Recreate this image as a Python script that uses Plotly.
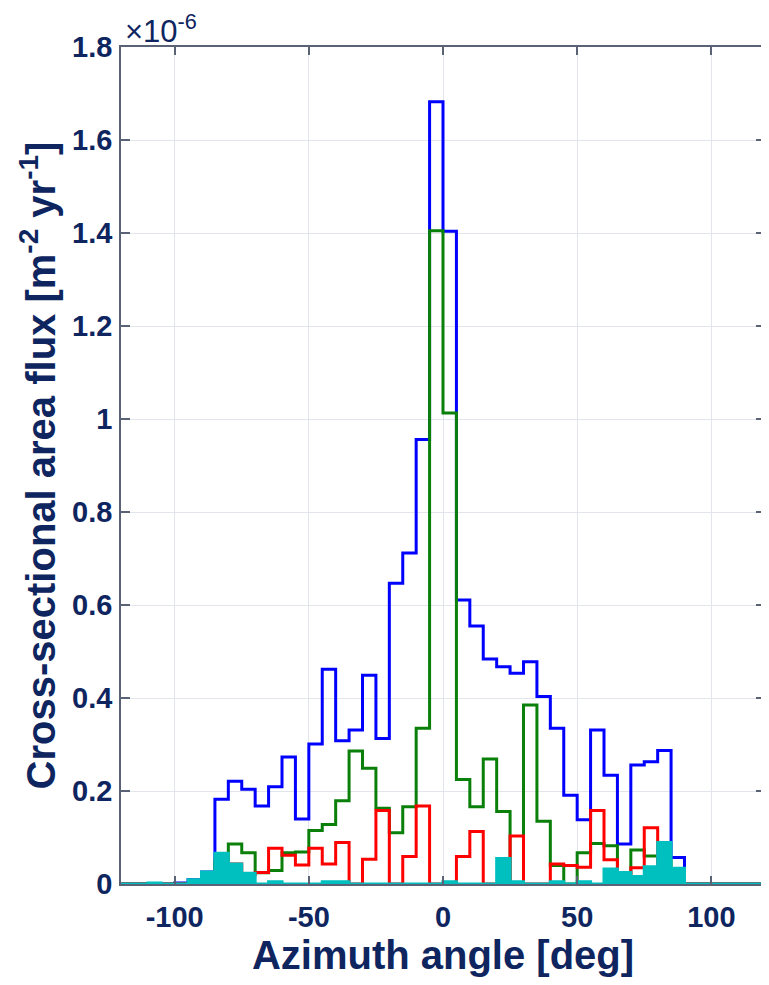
import plotly.graph_objects as go

# Bin edges of the azimuth histogram [deg]
bin_edges = [-120, -115, -110, -105, -100, -95, -90, -85, -80, -75, -70, -65,
             -60, -55, -50, -45, -40, -35, -30, -25, -20, -15, -10, -5,
             0, 5, 10, 15, 20, 25, 30, 35, 40, 45, 50, 55,
             60, 65, 70, 75, 80, 85, 90, 95, 100, 105, 110, 115, 120]

# Flux values per bin, in units of 1e-6 m^-2 yr^-1
blue_flux = [0, 0, 0, 0, 0.002, 0.009, 0.026, 0.182, 0.221, 0.204, 0.168, 0.209,
             0.273, 0.140, 0.301, 0.462, 0.308, 0.331, 0.449, 0.313, 0.647, 0.712, 0.956, 1.682,
             1.404, 0.611, 0.555, 0.484, 0.467, 0.453, 0.478, 0.403, 0.335, 0.191, 0.138, 0.331,
             0.234, 0.086, 0.256, 0.263, 0.287, 0.057, 0, 0, 0, 0, 0, 0]

green_flux = [0, 0, 0, 0, 0, 0, 0, 0.05, 0.086, 0.067, 0.024, 0.029,
              0.067, 0.069, 0.115, 0.128, 0.179, 0.286, 0.249, 0.163, 0.110, 0.166, 0.335, 1.405,
              1.013, 0.225, 0.166, 0.269, 0.156, 0, 0.385, 0.135, 0.04, 0, 0.067, 0.087,
              0.082, 0.022, 0.073, 0.060, 0.05, 0, 0, 0, 0, 0, 0, 0]

red_flux = [0, 0, 0, 0, 0, 0, 0, 0.02, 0.043, 0.02, 0.025, 0.077,
            0.062, 0.041, 0.077, 0.043, 0.089, 0, 0.053, 0.158, 0, 0.059, 0.168, 0,
            0, 0.059, 0.113, 0, 0, 0.103, 0, 0, 0.043, 0.040, 0.036, 0.158,
            0.052, 0.02, 0.035, 0.121, 0, 0, 0, 0, 0, 0, 0, 0]

cyan_flux = [0, 0, 0.002, 0, 0, 0.009, 0.026, 0.066, 0.043, 0.023, 0, 0.005,
             0, 0, 0, 0.005, 0.005, 0, 0, 0, 0, 0, 0, 0,
             0.005, 0, 0, 0, 0.055, 0.005, 0, 0, 0.005, 0, 0.005, 0,
             0.032, 0.025, 0.016, 0.037, 0.089, 0.034, 0, 0, 0, 0, 0, 0]

x_tick_vals = [-100, -50, 0, 50, 100]
x_tick_text = ["-100", "-50", "0", "50", "100"]
y_tick_vals = [0, 0.2, 0.4, 0.6, 0.8, 1.0, 1.2, 1.4, 1.6, 1.8]
y_tick_text = ["0", "0.2", "0.4", "0.6", "0.8", "1", "1.2", "1.4", "1.6", "1.8"]

for s in (blue_flux, green_flux, red_flux, cyan_flux):
    assert len(s) == len(bin_edges) - 1

NAVY = "#0e2560"
AXIS = "#5a6376"
GRID = "#e2e6ec"
FONT = "Liberation Sans, Arial, sans-serif"


def stair(vals):
    return vals + [vals[-1]]


fig = go.Figure()
for vals, color in ((blue_flux, "#0000ff"), (green_flux, "#0a800a"), (red_flux, "#ff0000")):
    fig.add_trace(go.Scatter(x=bin_edges, y=stair(vals), mode="lines",
                             line=dict(color=color, width=3, shape="hv"),
                             showlegend=False, hoverinfo="skip"))

fig.add_trace(go.Scatter(x=bin_edges, y=stair(cyan_flux), mode="lines",
                         line=dict(color="#00bfbf", width=3, shape="hv"),
                         fill="tozeroy", fillcolor="#00bfbf",
                         showlegend=False, hoverinfo="skip"))

# page body has an 8px default margin, so the figure is sized to fit the window
fig.update_layout(
    width=761, height=977,
    margin=dict(l=113, r=2, t=39, b=101),
    paper_bgcolor="white", plot_bgcolor="white",
    font=dict(family=FONT, color=NAVY),
    xaxis=dict(
        range=[-120, 120], tickvals=x_tick_vals, ticktext=x_tick_text,
        showgrid=True, gridcolor=GRID, gridwidth=1, zeroline=False,
        showline=True, linecolor=AXIS, linewidth=1.5, mirror="ticks",
        ticks="inside", ticklen=8, tickwidth=1.5, tickcolor=AXIS,
        tickfont=dict(family=FONT, size=29, color=NAVY, weight="bold"),
        ticklabelstandoff=6,
        title=dict(text="Azimuth angle [deg]", standoff=6,
                   font=dict(family=FONT, size=40, color=NAVY, weight="bold")),
    ),
    yaxis=dict(
        range=[0, 1.8], tickvals=y_tick_vals, ticktext=y_tick_text,
        showgrid=True, gridcolor=GRID, gridwidth=1, zeroline=False,
        showline=True, linecolor=AXIS, linewidth=1.5, mirror="ticks",
        ticks="inside", ticklen=9, tickwidth=1.5, tickcolor=AXIS,
        tickfont=dict(family=FONT, size=29, color=NAVY, weight="bold"),
        ticklabelstandoff=1,
        title=dict(text="Cross-sectional area flux [m<sup>-2</sup> yr<sup>-1</sup>]", standoff=4,
                   font=dict(family=FONT, size=40, color=NAVY, weight="bold")),
    ),
    annotations=[dict(text="\u00d710<sup>-6</sup>", xref="paper", yref="paper",
                      x=0, y=1, xanchor="left", yanchor="bottom", showarrow=False,
                      xshift=2, yshift=-4,
                      font=dict(family=FONT, size=31, color=NAVY))],
)

fig.write_html("out.html")
